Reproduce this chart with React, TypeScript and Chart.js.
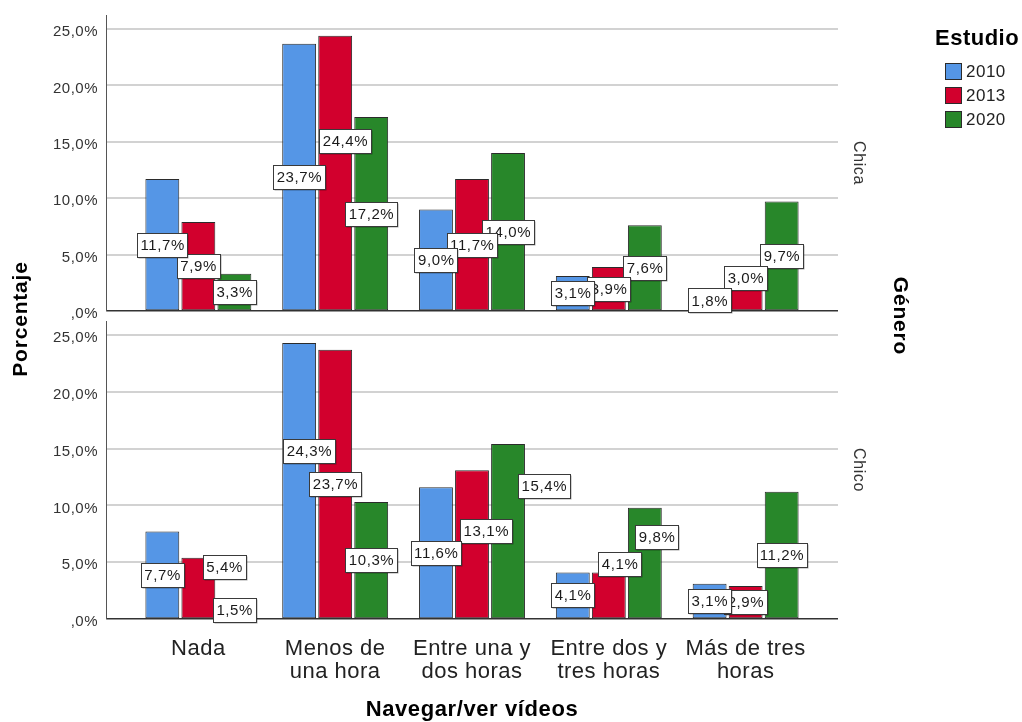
import React, { useEffect, useRef } from 'react';
import { Chart, registerables } from 'chart.js';

Chart.register(...registerables);

// ---------- data ----------
const CATEGORIES: string[][] = [
  ['Nada'],
  ['Menos de', 'una hora'],
  ['Entre una y', 'dos horas'],
  ['Entre dos y', 'tres horas'],
  ['Más de tres', 'horas'],
];
const YEARS = ['2010', '2013', '2020'];
const COLORS = ['#5596e6', '#d2002d', '#28872a'];
const PANELS = ['Chica', 'Chico'];

const CHICA_2010 = [11.7, 23.7, 9.0, 3.1, 1.8];
const CHICA_2013 = [7.9, 24.4, 11.7, 3.9, 3.0];
const CHICA_2020 = [3.3, 17.2, 14.0, 7.6, 9.7];
const CHICO_2010 = [7.7, 24.3, 11.6, 4.1, 3.1];
const CHICO_2013 = [5.4, 23.7, 13.1, 4.1, 2.9];
const CHICO_2020 = [1.5, 10.3, 15.4, 9.8, 11.2];

const Y_TICKS = [0, 5, 10, 15, 20, 25];
const Y_TICK_LABELS = [',0%', '5,0%', '10,0%', '15,0%', '20,0%', '25,0%'];

// value-label nudges [dx, dy] in px (the original moves some labels to avoid overlaps)
const NONE = [[0, 0], [0, 0], [0, 0], [0, 0], [0, 0]];
const CHICA_NUDGE_2013 = [[0, 0], [10, -32], [0, 0], [0, 0], [0, -16]];
const CHICO_NUDGE_2010 = [[0, 0], [10, -30], [0, 0], [0, 0], [0, 0]];
const CHICO_NUDGE_2013 = [[26, -21], [0, 0], [14, -13], [11, -31], [0, 0]];
const CHICO_NUDGE_2020 = [[0, 0], [0, 0], [36, -45], [12, -26], [0, 0]];

const PANEL_SERIES = [
  [CHICA_2010, CHICA_2013, CHICA_2020],
  [CHICO_2010, CHICO_2013, CHICO_2020],
];
const PANEL_NUDGES = [
  [NONE, CHICA_NUDGE_2013, NONE],
  [CHICO_NUDGE_2010, CHICO_NUDGE_2013, CHICO_NUDGE_2020],
];

const FONT = '"Liberation Sans", Arial, sans-serif';
const fmt = (v: number) => v.toFixed(1).replace('.', ',') + '%';

function buildDatasets() {
  const out: any[] = [];
  PANEL_SERIES.forEach((series, p) => {
    series.forEach((vals, k) => {
      out.push({
        label: YEARS[k],
        data: vals.map((v, i) => ({ x: i, y: v })),
        nudge: PANEL_NUDGES[p][k],
        backgroundColor: COLORS[k],
        borderColor: '#2b2b2b',
        borderWidth: 1,
        borderSkipped: false,
        yAxisID: p === 0 ? 'yTop' : 'yBottom',
        stack: YEARS[k],
        barPercentage: 0.94,
        categoryPercentage: 0.79,
      });
    });
  });
  return out;
}

function yScale(weight: number, stackWeight: number) {
  return {
    type: 'linear',
    position: 'left',
    stack: 'panels',
    stackWeight,
    weight,
    stacked: false,
    min: 0,
    max: 26.24,
    afterBuildTicks: (s: any) => {
      s.ticks = Y_TICKS.map((v) => ({ value: v }));
    },
    afterFit: (s: any) => {
      s.width = 106;
      s.paddingTop = 0;
      s.paddingBottom = 0;
    },
    ticks: {
      callback: (v: number) => Y_TICK_LABELS[Y_TICKS.indexOf(v)],
      font: { family: FONT, size: 15 },
      color: '#333',
      padding: 8,
      labelOffset: 3,
    },
    grid: {
      drawTicks: false,
      color: (c: any) => (c.tick && c.tick.value === 0 ? '#333' : '#d2d2d2'),
      lineWidth: (c: any) => (c.tick && c.tick.value === 0 ? 1.5 : 2),
    },
    border: { display: true, color: '#555', width: 1 },
  };
}

const overlay = {
  id: 'overlay',
  beforeDraw(chart: any) {
    chart.ctx.letterSpacing = '0.5px';
  },
  afterDatasetsDraw(chart: any) {
    const ctx = chart.ctx;
    ctx.save();
    ctx.font = `15px ${FONT}`;
    ctx.letterSpacing = '0.6px';
    ctx.textAlign = 'center';
    ctx.textBaseline = 'middle';
    const dsets = chart.data.datasets;
    for (let d = dsets.length - 1; d >= 0; d--) {
      const meta = chart.getDatasetMeta(d);
      const ds = dsets[d];
      meta.data.forEach((bar: any, i: number) => {
        const v = ds.data[i].y;
        const [dx, dy] = ds.nudge[i];
        const text = fmt(v);
        const w = Math.round(ctx.measureText(text).width + 6);
        const h = 24;
        const cx = bar.x + dx;
        const cy = (bar.y + bar.base) / 2 + dy;
        const x0 = Math.round(cx - w / 2) + 0.5;
        const y0 = Math.round(cy - h / 2) + 0.5;
        ctx.save();
        ctx.shadowColor = 'rgba(0,0,0,0.35)';
        ctx.shadowOffsetX = 1;
        ctx.shadowOffsetY = 1;
        ctx.fillStyle = '#ffffff';
        ctx.fillRect(x0, y0, w, h);
        ctx.restore();
        ctx.strokeStyle = '#3a3a3a';
        ctx.lineWidth = 1;
        ctx.strokeRect(x0, y0, w, h);
        ctx.fillStyle = '#1a1a1a';
        ctx.fillText(text, cx + 0.3, cy + 1);
      });
    }
    ctx.restore();
  },
  afterDraw(chart: any) {
    const ctx = chart.ctx;
    const area = chart.chartArea;
    ctx.save();
    ctx.fillStyle = '#000';
    ctx.textAlign = 'center';
    ctx.textBaseline = 'middle';

    // y title
    ctx.font = `bold 21px ${FONT}`;
    ctx.letterSpacing = '0.8px';
    ctx.save();
    ctx.translate(21, 319);
    ctx.rotate(-Math.PI / 2);
    ctx.fillText('Porcentaje', 0, 0);
    ctx.restore();

    // right facet title
    ctx.save();
    ctx.translate(900, 316);
    ctx.rotate(Math.PI / 2);
    ctx.fillText('Género', 0, 0);
    ctx.restore();

    // x title
    ctx.font = `bold 22px ${FONT}`;
    ctx.letterSpacing = '0.6px';
    ctx.fillText('Navegar/ver vídeos', (area.left + area.right) / 2, 710);

    // panel labels
    ctx.font = `16px ${FONT}`;
    ctx.letterSpacing = '0.6px';
    ctx.fillStyle = '#333';
    ['yTop', 'yBottom'].forEach((id, p) => {
      const s = chart.scales[id];
      ctx.save();
      ctx.translate(858, (s.top + s.bottom) / 2);
      ctx.rotate(Math.PI / 2);
      ctx.fillText(PANELS[p], 0, 0);
      ctx.restore();
    });

    // legend
    ctx.textAlign = 'left';
    ctx.fillStyle = '#000';
    ctx.font = `bold 22px ${FONT}`;
    ctx.letterSpacing = '0.5px';
    ctx.fillText('Estudio', 935, 39);
    ctx.font = `17px ${FONT}`;
    ctx.letterSpacing = '0.5px';
    YEARS.forEach((y, k) => {
      const top = 63 + k * 24;
      ctx.fillStyle = COLORS[k];
      ctx.fillRect(945.5, top + 0.5, 16, 16);
      ctx.strokeStyle = '#2b2b2b';
      ctx.lineWidth = 1;
      ctx.strokeRect(945.5, top + 0.5, 16, 16);
      ctx.fillStyle = '#222';
      ctx.fillText(y, 966, top + 9);
    });
    ctx.restore();
    ctx.letterSpacing = '0px';
  },
};

export default function App() {
  const ref = useRef<HTMLCanvasElement>(null);
  useEffect(() => {
    const chart = new Chart(ref.current as HTMLCanvasElement, {
      type: 'bar',
      data: { datasets: buildDatasets() },
      options: {
        animation: false,
        responsive: false,
        devicePixelRatio: 1,
        layout: { padding: { left: 0, right: 184, top: 15, bottom: 0 } },
        plugins: { legend: { display: false }, tooltip: { enabled: false } },
        scales: {
          x: {
            type: 'linear',
            position: 'bottom',
            min: -0.675,
            max: 4.675,
            offset: false,
            afterBuildTicks: (s: any) => {
              s.ticks = CATEGORIES.map((_, i) => ({ value: i }));
            },
            afterFit: (s: any) => {
              s.height = 103;
              s.paddingLeft = 0;
              s.paddingRight = 0;
            },
            grid: { display: false },
            border: { display: false },
            ticks: {
              autoSkip: false,
              maxRotation: 0,
              minRotation: 0,
              padding: 10,
              color: '#222',
              font: { family: FONT, size: 22, lineHeight: 1.05 },
              callback: (v: number) => CATEGORIES[Math.round(v)],
            },
          },
          yTop: yScale(3, 296),
          ySpacer: {
            type: 'linear',
            position: 'left',
            stack: 'panels',
            stackWeight: 10,
            weight: 2,
            min: 0,
            max: 1,
            display: false,
          },
          yBottom: yScale(1, 298),
        } as any,
      },
      plugins: [overlay],
    } as any);
    return () => chart.destroy();
  }, []);
  return (
    <div style={{ position: 'fixed', left: 0, top: 0, width: 1022, height: 722, background: '#fff' }}>
      <canvas ref={ref} width={1022} height={722} style={{ display: 'block' }} />
    </div>
  );
}
